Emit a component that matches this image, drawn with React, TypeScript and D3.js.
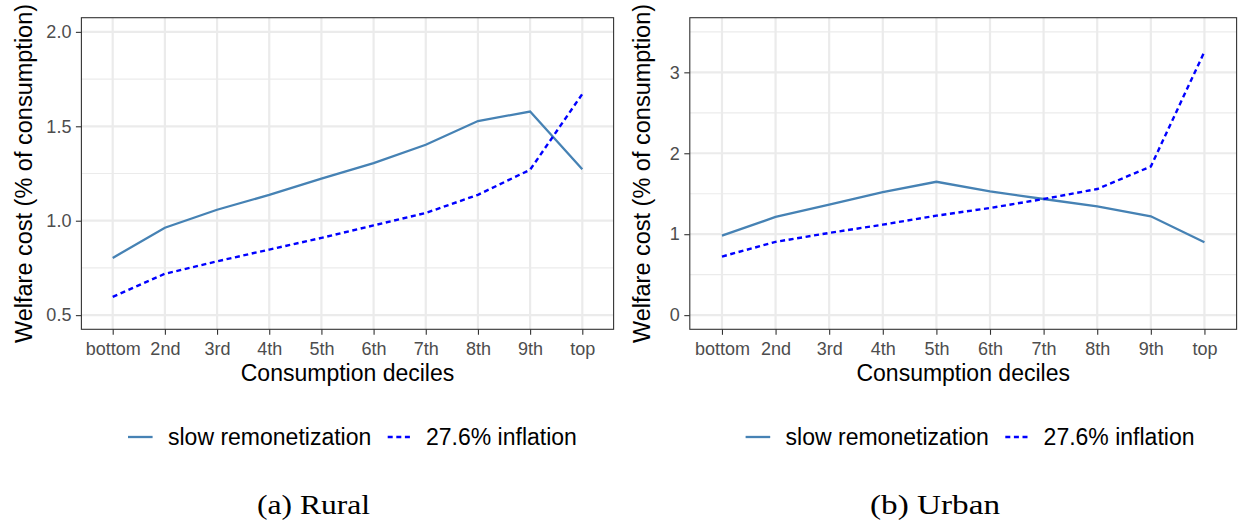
import React, { useEffect, useRef } from "react";
import * as d3 from "d3";

// consumption deciles on the x axis
const deciles = ["bottom", "2nd", "3rd", "4th", "5th", "6th", "7th", "8th", "9th", "top"];

// rural: welfare cost, % of consumption
const ruralSlow = [0.803, 0.963, 1.058, 1.137, 1.223, 1.305, 1.402, 1.528, 1.578, 1.273];
const ruralInflation = [0.597, 0.719, 0.785, 0.847, 0.909, 0.975, 1.041, 1.137, 1.27, 1.671];
const ruralTicks = [0.5, 1.0, 1.5, 2.0];
const ruralMinor = [0.75, 1.25, 1.75];

// urban: welfare cost, % of consumption
const urbanSlow = [0.983, 1.213, 1.365, 1.521, 1.648, 1.529, 1.435, 1.344, 1.221, 0.9];
const urbanInflation = [0.724, 0.905, 1.016, 1.118, 1.229, 1.324, 1.435, 1.558, 1.837, 3.255];
const urbanTicks = [0, 1, 2, 3];
const urbanMinor = [0.5, 1.5, 2.5, 3.5];

const seriesNames = ["slow remonetization", "27.6% inflation"];
const captions = ["(a) Rural", "(b) Urban"];

const W = 1238;
const H = 523;
const SANS = "'Liberation Sans', Arial, Helvetica, sans-serif";
const SERIF = "'Liberation Serif', 'DejaVu Serif', serif";
const SLOW_COLOR = "#4682B4";
const INFL_COLOR = "#0000FF";
const DASH = "5,3.6";
const GRID = "#EBEBEB";
const DARK = "#333333";

type PanelOpts = {
	left: number;
	right: number;
	top: number;
	bottom: number;
	domain: [number, number];
	ticks: number[];
	minor: number[];
	fmt: (d: number) => string;
	slow: number[];
	infl: number[];
	titleX: number;
	legendX: number;
	caption: string;
	captionX: number;
	captionLen: number;
};

function drawPanel(svg: d3.Selection<SVGSVGElement, unknown, null, undefined>, o: PanelOpts) {
	const g = svg.append("g");

	let x = d3.scalePoint<string>().domain(deciles).range([o.left, o.right]).padding(0.6);
	let y = d3.scaleLinear().domain(o.domain).range([o.bottom, o.top]);

	g.append("rect")
		.attr("x", o.left)
		.attr("y", o.top)
		.attr("width", o.right - o.left)
		.attr("height", o.bottom - o.top)
		.attr("fill", "#fff");

	// grid
	g.selectAll(".minor")
		.data(o.minor)
		.join("line")
		.attr("x1", o.left)
		.attr("x2", o.right)
		.attr("y1", d => y(d))
		.attr("y2", d => y(d))
		.attr("stroke", GRID)
		.attr("stroke-width", 1.2);
	g.selectAll(".majorY")
		.data(o.ticks)
		.join("line")
		.attr("x1", o.left)
		.attr("x2", o.right)
		.attr("y1", d => y(d))
		.attr("y2", d => y(d))
		.attr("stroke", GRID)
		.attr("stroke-width", 2.2);
	g.selectAll(".majorX")
		.data(deciles)
		.join("line")
		.attr("x1", d => x(d)!)
		.attr("x2", d => x(d)!)
		.attr("y1", o.top)
		.attr("y2", o.bottom)
		.attr("stroke", GRID)
		.attr("stroke-width", 2.2);

	// lines
	const line = d3
		.line<number>()
		.x((d, i) => x(deciles[i])!)
		.y(d => y(d));
	g.append("path")
		.datum(o.slow)
		.attr("d", line)
		.attr("fill", "none")
		.attr("stroke", SLOW_COLOR)
		.attr("stroke-width", 2.3);
	g.append("path")
		.datum(o.infl)
		.attr("d", line)
		.attr("fill", "none")
		.attr("stroke", INFL_COLOR)
		.attr("stroke-width", 2.4)
		.attr("stroke-dasharray", DASH);

	// panel border
	g.append("rect")
		.attr("x", o.left)
		.attr("y", o.top)
		.attr("width", o.right - o.left)
		.attr("height", o.bottom - o.top)
		.attr("fill", "none")
		.attr("stroke", DARK)
		.attr("stroke-width", 1.1);

	// axes
	const xAxis = g
		.append("g")
		.attr("transform", "translate(0," + o.bottom + ")")
		.call(d3.axisBottom(x).tickSize(5.5).tickPadding(7));
	const yAxis = g
		.append("g")
		.attr("transform", "translate(" + o.left + ",0)")
		.call(d3.axisLeft(y).tickValues(o.ticks).tickFormat(d => o.fmt(d as number)).tickSize(5.5).tickPadding(4.5));
	[xAxis, yAxis].forEach(a => {
		a.select(".domain").remove();
		a.selectAll("line").attr("stroke", DARK).attr("stroke-width", 1.1);
		a.selectAll("text")
			.attr("fill", "#4D4D4D")
			.style("font-family", SANS)
			.style("font-size", "18px");
	});

	const cx = (o.left + o.right) / 2;
	const cy = (o.top + o.bottom) / 2;
	g.append("text")
		.attr("x", cx)
		.attr("y", 381)
		.attr("text-anchor", "middle")
		.style("font-family", SANS)
		.style("font-size", "23px")
		.text("Consumption deciles");
	g.append("text")
		.attr("transform", "translate(" + o.titleX + "," + cy + ")rotate(-90)")
		.attr("dy", "0.35em")
		.attr("text-anchor", "middle")
		.style("font-family", SANS)
		.style("font-size", "23.5px")
		.text("Welfare cost (% of consumption)");

	// legend
	const ly = 437;
	const lg = g.append("g").attr("transform", "translate(" + o.legendX + "," + ly + ")");
	lg.append("line").attr("x1", 0).attr("x2", 24.6).attr("stroke", SLOW_COLOR).attr("stroke-width", 2.3);
	lg.append("text")
		.attr("x", 40)
		.attr("dy", "0.35em")
		.style("font-family", SANS)
		.style("font-size", "23px")
		.text(seriesNames[0]);
	lg.append("line")
		.attr("x1", 259.7)
		.attr("x2", 284.3)
		.attr("stroke", INFL_COLOR)
		.attr("stroke-width", 2.4)
		.attr("stroke-dasharray", DASH);
	lg.append("text")
		.attr("x", 298)
		.attr("dy", "0.35em")
		.style("font-family", SANS)
		.style("font-size", "23px")
		.text(seriesNames[1]);

	// caption
	g.append("text")
		.attr("x", o.captionX)
		.attr("y", 514)
		.attr("text-anchor", "middle")
		.attr("textLength", o.captionLen)
		.attr("lengthAdjust", "spacingAndGlyphs")
		.style("font-family", SERIF)
		.style("font-size", "27px")
		.text(o.caption);
}

export default function App() {
	const ref = useRef<SVGSVGElement>(null);

	useEffect(() => {
		const svg = d3.select(ref.current!);
		svg.selectAll("*").remove();
		drawPanel(svg, {
			left: 81.4,
			right: 613.6,
			top: 17.7,
			bottom: 329.3,
			domain: [0.425, 2.075],
			ticks: ruralTicks,
			minor: ruralMinor,
			fmt: d3.format(".1f"),
			slow: ruralSlow,
			infl: ruralInflation,
			titleX: 24,
			legendX: 128,
			caption: captions[0],
			captionX: 313.5,
			captionLen: 113,
		});
		drawPanel(svg, {
			left: 689.8,
			right: 1236.6,
			top: 17.7,
			bottom: 329.3,
			domain: [-0.175, 3.675],
			ticks: urbanTicks,
			minor: urbanMinor,
			fmt: d3.format("d"),
			slow: urbanSlow,
			infl: urbanInflation,
			titleX: 641.5,
			legendX: 745.6,
			caption: captions[1],
			captionX: 935,
			captionLen: 130,
		});
	}, []);

	return (
		<svg
			ref={ref}
			width={W}
			height={H}
			style={{ position: "absolute", left: 0, top: 0, background: "#fff" }}
		/>
	);
}
